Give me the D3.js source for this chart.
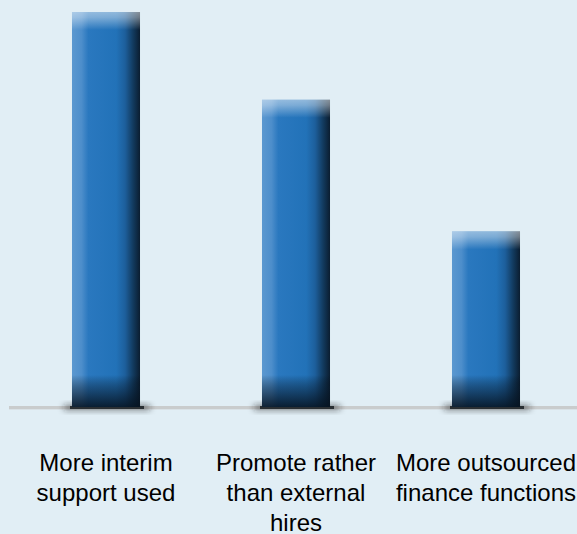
<!DOCTYPE html>
<html><head><meta charset="utf-8">
<script src="https://cdn.jsdelivr.net/npm/d3@7/dist/d3.min.js"></script>
<style>html,body{margin:0;padding:0;background:#e1eef5;}svg{display:block;}</style>
</head><body>
<svg id="chart" width="577" height="534"></svg>
<script>
const categories = ["More interim support used", "Promote rather than external hires", "More outsourced finance functions"];
const labelLines = [["More interim", "support used"], ["Promote rather", "than external", "hires"], ["More outsourced", "finance functions"]];
const values = [45, 35, 20];

const W = 577, H = 534, baseY = 407, topY = 12;
const svg = d3.select("#chart");
svg.append("rect").attr("width", W).attr("height", H).attr("fill", "#e1eef5");

const x = d3.scaleBand().domain(categories).range([11, 581]).paddingInner(0.642).paddingOuter(0.321);
const y = d3.scaleLinear().domain([0, 45]).range([baseY, topY]);

const defs = svg.append("defs");
const hg = defs.append("linearGradient").attr("id", "hg").attr("x1", 0).attr("x2", 1).attr("y1", 0).attr("y2", 0);
[[0, "#5b98d0"], [0.14, "#4d8ecb"], [0.24, "#2a78bf"], [0.65, "#2272b8"], [0.78, "#1d5f9c"], [0.9, "#123a5e"], [1, "#0b1d30"]]
  .forEach(([o, c]) => hg.append("stop").attr("offset", o).attr("stop-color", c));
const tg = defs.append("linearGradient").attr("id", "tg").attr("x1", 0).attr("x2", 0).attr("y1", 0).attr("y2", 1);
[[0, "#ffffff", 0.5], [0.3, "#ffffff", 0.4], [1, "#ffffff", 0]]
  .forEach(([o, c, a]) => tg.append("stop").attr("offset", o).attr("stop-color", c).attr("stop-opacity", a));
const bg = defs.append("linearGradient").attr("id", "bg").attr("x1", 0).attr("x2", 0).attr("y1", 0).attr("y2", 1);
[[0, "#000000", 0], [0.4, "#06121f", 0.4], [1, "#06121f", 0.88]]
  .forEach(([o, c, a]) => bg.append("stop").attr("offset", o).attr("stop-color", c).attr("stop-opacity", a));
defs.append("filter").attr("id", "blur").attr("x", "-50%").attr("y", "-200%").attr("width", "200%").attr("height", "500%")
  .append("feGaussianBlur").attr("stdDeviation", 3);

// baseline
svg.append("rect").attr("x", 9).attr("y", baseY - 1).attr("width", W - 9).attr("height", 3).attr("fill", "#c9cccd");
svg.append("rect").attr("x", 9).attr("y", baseY + 2).attr("width", W - 9).attr("height", 1).attr("fill", "#d9e2e7");

const g = svg.append("g");
const bars = g.selectAll("g.bar").data(categories).join("g").attr("class", "bar");
// shadow on baseline
bars.append("rect")
  .attr("x", d => x(d) - 8).attr("y", baseY - 1).attr("width", x.bandwidth() + 18).attr("height", 3)
  .attr("fill", "#222").attr("filter", "url(#blur)");
bars.append("rect")
  .attr("x", d => x(d) - 2).attr("y", baseY - 1).attr("width", x.bandwidth() + 6).attr("height", 3)
  .attr("fill", "#2a2f33");
bars.append("rect")
  .attr("x", d => x(d)).attr("y", (d, i) => y(values[i]))
  .attr("width", x.bandwidth()).attr("height", (d, i) => baseY - y(values[i]))
  .attr("fill", "url(#hg)");
bars.append("rect")
  .attr("x", d => x(d)).attr("y", (d, i) => y(values[i]))
  .attr("width", x.bandwidth()).attr("height", 18)
  .attr("fill", "url(#tg)");
bars.append("rect")
  .attr("x", d => x(d)).attr("y", baseY - 32)
  .attr("width", x.bandwidth()).attr("height", 32)
  .attr("fill", "url(#bg)");

// labels
const lab = svg.append("g").attr("font-family", "Liberation Sans, Arial, sans-serif").attr("font-size", 24).attr("fill", "#000");
categories.forEach((c, i) => {
  const cx = x(c) + x.bandwidth() / 2;
  const t = lab.append("text").attr("text-anchor", "middle").attr("x", cx).attr("y", 471);
  labelLines[i].forEach((ln, j) => t.append("tspan").attr("x", cx).attr("dy", j === 0 ? 0 : 30).text(ln));
});
</script>
</body></html>
